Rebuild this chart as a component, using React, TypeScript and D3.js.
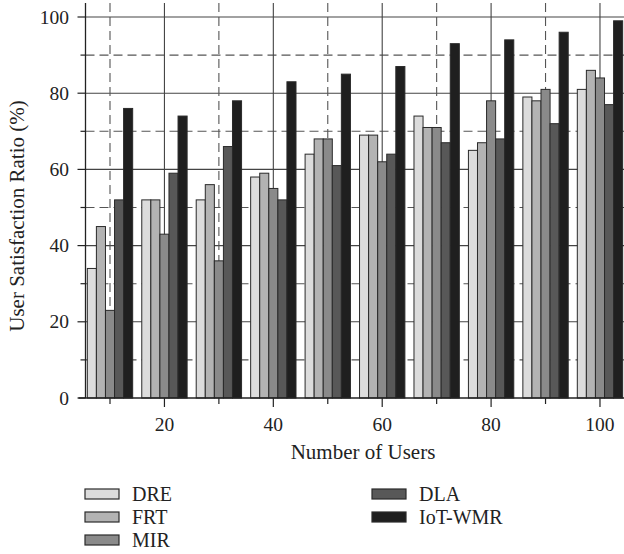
import React, { useEffect, useRef } from 'react';
import * as d3 from 'd3';

const users = [10, 20, 30, 40, 50, 60, 70, 80, 90, 100];
const seriesNames = ['DRE', 'FRT', 'MIR', 'DLA', 'IoT-WMR'];
const dre = [34, 52, 52, 58, 64, 69, 74, 65, 79, 81];
const frt = [45, 52, 56, 59, 68, 69, 71, 67, 78, 86];
const mir = [23, 43, 36, 55, 68, 62, 71, 78, 81, 84];
const dla = [52, 59, 66, 52, 61, 64, 67, 68, 72, 77];
const iot = [76, 74, 78, 83, 85, 87, 93, 94, 96, 99];
const fills = ['#dcdcdc', '#b3b3b3', '#8a8a8a', '#585858', '#1f1f1f'];
const yTicks = [0, 20, 40, 60, 80, 100];
const yMinor = [10, 30, 50, 70, 90];
const xTicks = [20, 40, 60, 80, 100];
const xMinor = [10, 30, 50, 70, 90];

const FONT = '"Liberation Serif", "DejaVu Serif", serif';

const App = () => {
    const ref = useRef<SVGSVGElement>(null);

    useEffect(() => {
        const svg = d3.select(ref.current);
        svg.selectAll('*').remove();

        const top = 3, bottom = 398, left = 85.5;
        const x = d3.scaleLinear().domain([5.5, 105]).range([left, 627.2]);
        const y = d3.scaleLinear().domain([0, 100]).range([bottom, 17]);
        const groupW = x(10) - x(10 - 8.33);
        const inner = d3.scaleBand().domain(seriesNames).range([-groupW / 2, groupW / 2]).padding(0);
        const values = [dre, frt, mir, dla, iot];

        // grid
        const grid = svg.append('g');
        grid.selectAll('.hmaj').data(yTicks.slice(1)).join('line')
            .attr('x1', left).attr('x2', 624)
            .attr('y1', d => y(d)).attr('y2', d => y(d))
            .attr('stroke', '#444').attr('stroke-width', 1.1);
        grid.selectAll('.hmin').data(yMinor).join('line')
            .attr('x1', left).attr('x2', 624)
            .attr('y1', d => y(d)).attr('y2', d => y(d))
            .attr('stroke', '#555').attr('stroke-width', 1.1).attr('stroke-dasharray', '9,5');
        grid.selectAll('.vmaj').data(xTicks).join('line')
            .attr('x1', d => x(d)).attr('x2', d => x(d))
            .attr('y1', top).attr('y2', bottom)
            .attr('stroke', '#444').attr('stroke-width', 1.1);
        grid.selectAll('.vmin').data(xMinor).join('line')
            .attr('x1', d => x(d)).attr('x2', d => x(d))
            .attr('y1', top).attr('y2', bottom)
            .attr('stroke', '#555').attr('stroke-width', 1.1).attr('stroke-dasharray', '9,5');

        // bars
        seriesNames.forEach((name, si) => {
            svg.append('g').selectAll('rect').data(users).join('rect')
                .attr('x', (u) => x(u) + (inner(name) as number))
                .attr('y', (u, i) => y(values[si][i]))
                .attr('width', inner.bandwidth())
                .attr('height', (u, i) => bottom - y(values[si][i]))
                .attr('fill', fills[si])
                .attr('stroke', '#2a2a2a')
                .attr('stroke-width', 1);
        });

        // axes lines
        svg.append('line').attr('x1', left).attr('x2', left).attr('y1', top).attr('y2', bottom)
            .attr('stroke', '#222').attr('stroke-width', 1.3);
        svg.append('line').attr('x1', left - 7).attr('x2', 624).attr('y1', bottom).attr('y2', bottom)
            .attr('stroke', '#222').attr('stroke-width', 1.3);

        // y ticks
        svg.append('g').selectAll('line').data(yTicks).join('line')
            .attr('x1', left - 8).attr('x2', left).attr('y1', d => y(d)).attr('y2', d => y(d))
            .attr('stroke', '#222').attr('stroke-width', 1.2);
        svg.append('g').selectAll('line').data(yMinor).join('line')
            .attr('x1', left - 5).attr('x2', left).attr('y1', d => y(d)).attr('y2', d => y(d))
            .attr('stroke', '#222').attr('stroke-width', 1.2);
        svg.append('g').selectAll('text').data(yTicks).join('text')
            .attr('x', 69).attr('y', d => y(d) + 6.5)
            .attr('text-anchor', 'end')
            .attr('font-family', FONT).attr('font-size', 19.5).attr('fill', '#222')
            .text(d => d);

        // x ticks
        svg.append('g').selectAll('line').data(xTicks).join('line')
            .attr('x1', d => x(d)).attr('x2', d => x(d)).attr('y1', bottom).attr('y2', bottom + 9)
            .attr('stroke', '#222').attr('stroke-width', 1.2);
        svg.append('g').selectAll('line').data(xMinor).join('line')
            .attr('x1', d => x(d)).attr('x2', d => x(d)).attr('y1', bottom).attr('y2', bottom + 6)
            .attr('stroke', '#222').attr('stroke-width', 1.2);
        svg.append('g').selectAll('text').data(xTicks).join('text')
            .attr('x', d => x(d)).attr('y', 431)
            .attr('text-anchor', 'middle')
            .attr('font-family', FONT).attr('font-size', 19.5).attr('fill', '#222')
            .text(d => d);

        // titles
        svg.append('text').attr('x', 363).attr('y', 459)
            .attr('text-anchor', 'middle')
            .attr('font-family', FONT).attr('font-size', 21).attr('fill', '#222')
            .text('Number of Users');
        svg.append('text')
            .attr('transform', 'translate(24,216) rotate(-90)')
            .attr('text-anchor', 'middle')
            .attr('font-family', FONT).attr('font-size', 21).attr('fill', '#222')
            .text('User Satisfaction Ratio (%)');

        // legend
        const legendPos = [
            [85, 494], [85, 517], [85, 540], [372, 494], [372, 517],
        ];
        const legend = svg.append('g').selectAll('g').data(seriesNames).join('g')
            .attr('transform', (d, i) => `translate(${legendPos[i][0]},${legendPos[i][1]})`);
        legend.append('rect')
            .attr('x', 0).attr('y', -5).attr('width', 34).attr('height', 10)
            .attr('fill', (d, i) => fills[i]).attr('stroke', '#2a2a2a').attr('stroke-width', 1.2);
        legend.append('text')
            .attr('x', 47).attr('y', 6.5)
            .attr('font-family', FONT).attr('font-size', 20).attr('fill', '#222')
            .text(d => d);
    }, []);

    return (
        <svg ref={ref} width={624} height={554}
            style={{ position: 'absolute', left: 0, top: 0, background: '#fff' }}></svg>
    );
};

export default App;
